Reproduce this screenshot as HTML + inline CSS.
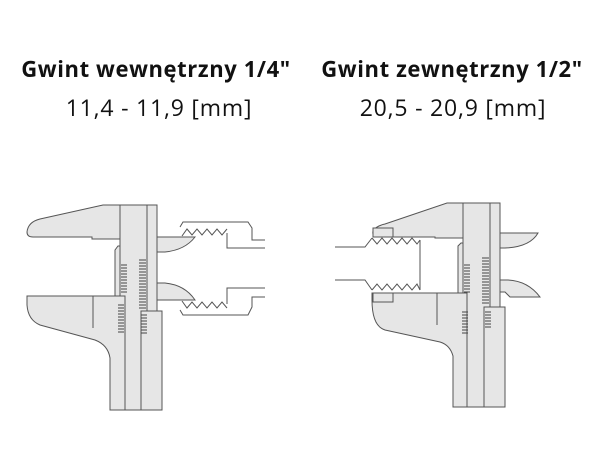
<!DOCTYPE html>
<html><head><meta charset="utf-8"><style>
html,body{margin:0;padding:0;background:#fff;width:600px;height:450px;overflow:hidden}
.t{position:absolute;font-family:"Open Sans","Liberation Sans",sans-serif;color:#111;white-space:nowrap;text-align:center}
.b{font-weight:bold;font-size:22px;letter-spacing:0.6px;top:54px}
.r{font-size:23px;letter-spacing:0.8px;top:91px}
svg{position:absolute;left:0;top:0}
</style></head><body>
<div class="t b" style="left:6px;width:300px">Gwint wewnętrzny 1/4"</div>
<div class="t b" style="left:302px;width:300px">Gwint zewnętrzny 1/2"</div>
<div class="t r" style="left:9px;width:300px">11,4 - 11,9 [mm]</div>
<div class="t r" style="left:303px;width:300px">20,5 - 20,9 [mm]</div>
<svg width="600" height="450" viewBox="0 0 600 450" fill="#e6e6e6" stroke="#555" stroke-width="1">
<!-- LEFT -->
<path d="M103,205 L120,205 L120,239 L92,239 L92,237 L33,237 Q27,237 27,232 Q28,222 40,219 Z"/>
<path d="M115,250 L118,246 L120,246 L120,297 L115,297 Z"/>
<rect x="120" y="205" width="27" height="205"/>
<rect x="147" y="205" width="10" height="107"/>
<path d="M27,296 L125,296 L125,410 L110,410 L110,358 Q108,345 95,340 L40,325 Q28,320 27,305 Z"/>
<line x1="93" y1="296" x2="93" y2="328"/>
<rect x="141" y="311" width="21" height="99"/>
<path d="M157,237 L195,237 Q185,250 165,252 L157,252 Z"/>
<path d="M157,283 L165,283 Q185,285 195,300 L157,300 Z"/>
<path d="M180,227 L183,222 L248,222 L252,228 L252,240 L265,240 M265,248 L227,248 L227,233" fill="none"/>
<path d="M182,236 L187,229 L192,235 L197,229 L202,235 L207,229 L212,235 L217,229 L222,235 L227,229" fill="none"/>
<path d="M180,310 L183,315 L248,315 L252,307 L252,297 L265,297 M265,288 L227,288 L227,304" fill="none"/>
<path d="M182,301 L187,308 L192,302 L197,308 L202,302 L207,308 L212,302 L217,308 L222,302 L227,308" fill="none"/>
<g stroke="#444">
<path d="M121,265h6M121,268h6M121,271h6M121,274h6M121,277h6M121,280h6M121,283h6M121,286h6M121,289h6M121,292h6"/>
<path d="M139,260h7M139,263h7M139,266h7M139,269h7M139,272h7M139,275h7M139,278h7M139,281h7M139,284h7M139,287h7M139,290h7M139,293h7M139,296h7M139,299h7M139,302h7M139,305h7M139,308h7"/>
<path d="M118,305h6M118,308h6M118,311h6M118,314h6M118,317h6M118,320h6M118,323h6M118,326h6M118,329h6M118,332h6"/>
<path d="M141,315h6M141,318h6M141,321h6M141,324h6M141,327h6M141,330h6M141,333h6"/>
</g>
<!-- RIGHT -->
<path d="M447,203 L463,203 L463,238 L435,238 L435,237 L377,237 Q372,237 373,231 Q376,226 385,224 Z"/>
<rect x="373" y="228" width="20" height="9"/>
<path d="M458,246 L461,243 L463,243 L463,293 L458,293 Z"/>
<rect x="463" y="203" width="27" height="204"/>
<rect x="490" y="203" width="10" height="104"/>
<path d="M372,293 L467,293 L467,407 L453,407 L453,356 Q450,345 440,342 L385,330 Q372,326 372,300 Z"/>
<rect x="373" y="293" width="20" height="9"/>
<line x1="437" y1="293" x2="437" y2="325"/>
<rect x="484" y="307" width="21" height="100"/>
<path d="M500,233 L538,233 Q530,247 505,248 L500,248 Z"/>
<path d="M500,280 L508,280 Q528,281 540,297 L510,297 L505,292 L500,292 Z"/>
<path d="M335,247 L365,247 L372,238 M335,280 L365,280 L372,290 M420,240 L420,290" fill="none"/>
<path d="M372,238 L377,244 L382,238 L387,244 L392,238 L397,244 L402,238 L407,244 L412,238 L417,244 L420,240" fill="none"/>
<path d="M372,290 L377,284 L382,290 L387,284 L392,290 L397,284 L402,290 L407,284 L412,290 L417,284 L420,290" fill="none"/>
<g stroke="#444">
<path d="M464,265h6M464,268h6M464,271h6M464,274h6M464,277h6M464,280h6M464,283h6M464,286h6M464,289h6M464,292h6"/>
<path d="M482,258h7M482,261h7M482,264h7M482,267h7M482,270h7M482,273h7M482,276h7M482,279h7M482,282h7M482,285h7M482,288h7M482,291h7M482,294h7M482,297h7M482,300h7M482,303h7"/>
<path d="M462,312h6M462,315h6M462,318h6M462,321h6M462,324h6M462,327h6M462,330h6M462,333h6"/>
<path d="M485,312h6M485,315h6M485,318h6M485,321h6M485,324h6M485,327h6"/>
</g>
</svg>
</body></html>
